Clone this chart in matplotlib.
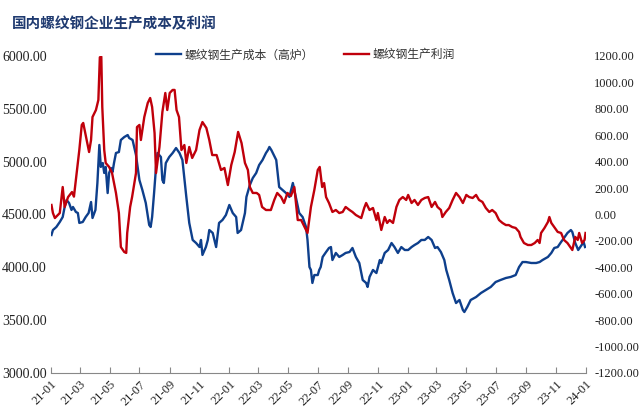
import matplotlib
matplotlib.use('Agg')
import matplotlib.pyplot as plt
import matplotlib.dates as mdates
import pandas as pd

# 螺纹钢生产成本（高炉），元/吨
cost_dates = [
    '2021-01-02', '2021-01-05', '2021-01-12', '2021-01-19', '2021-01-25', '2021-01-29',
    '2021-02-02', '2021-02-07', '2021-02-12', '2021-02-15', '2021-02-21', '2021-02-25',
    '2021-02-28', '2021-03-07', '2021-03-13', '2021-03-19', '2021-03-24', '2021-03-27',
    '2021-04-02', '2021-04-06', '2021-04-10', '2021-04-13', '2021-04-17', '2021-04-20',
    '2021-04-23', '2021-04-27', '2021-04-30', '2021-05-04', '2021-05-07', '2021-05-10',
    '2021-05-14', '2021-05-20', '2021-05-24', '2021-05-31', '2021-06-07', '2021-06-10',
    '2021-06-17', '2021-06-24', '2021-07-01', '2021-07-07', '2021-07-14', '2021-07-21',
    '2021-07-24', '2021-07-27', '2021-07-31', '2021-08-04', '2021-08-07', '2021-08-14',
    '2021-08-17', '2021-08-20', '2021-08-24', '2021-08-31', '2021-09-07', '2021-09-14',
    '2021-09-21', '2021-09-27', '2021-10-05', '2021-10-11', '2021-10-18', '2021-10-25',
    '2021-11-01', '2021-11-04', '2021-11-07', '2021-11-14', '2021-11-18', '2021-11-21',
    '2021-11-28', '2021-12-05', '2021-12-11', '2021-12-18', '2021-12-25', '2022-01-01',
    '2022-01-08', '2022-01-15', '2022-01-18', '2022-01-25', '2022-02-02', '2022-02-05',
    '2022-02-12', '2022-02-18', '2022-02-25', '2022-03-03', '2022-03-10', '2022-03-17',
    '2022-03-21', '2022-03-24', '2022-03-28', '2022-03-31', '2022-04-07', '2022-04-13',
    '2022-04-20', '2022-04-27', '2022-05-04', '2022-05-11', '2022-05-17', '2022-05-24',
    '2022-05-31', '2022-06-07', '2022-06-10', '2022-06-14', '2022-06-17', '2022-06-20',
    '2022-06-24', '2022-07-01', '2022-07-04', '2022-07-07', '2022-07-11', '2022-07-18',
    '2022-07-24', '2022-07-28', '2022-07-31', '2022-08-07', '2022-08-14', '2022-08-21',
    '2022-08-27', '2022-09-04', '2022-09-10', '2022-09-17', '2022-09-24', '2022-10-01',
    '2022-10-08', '2022-10-11', '2022-10-15', '2022-10-22', '2022-10-29', '2022-11-05',
    '2022-11-08', '2022-11-15', '2022-11-22', '2022-11-29', '2022-12-05', '2022-12-12',
    '2022-12-19', '2022-12-26', '2023-01-02', '2023-01-09', '2023-01-15', '2023-01-22',
    '2023-01-29', '2023-02-05', '2023-02-12', '2023-02-19', '2023-02-26', '2023-03-03',
    '2023-03-10', '2023-03-17', '2023-03-21', '2023-03-27', '2023-04-03', '2023-04-10',
    '2023-04-17', '2023-04-24', '2023-04-27', '2023-05-03', '2023-05-10', '2023-05-21',
    '2023-05-31', '2023-06-10', '2023-06-20', '2023-06-30', '2023-07-10', '2023-07-21',
    '2023-07-31', '2023-08-10', '2023-08-17', '2023-08-24', '2023-08-31', '2023-09-11',
    '2023-09-21', '2023-09-28', '2023-10-04', '2023-10-15', '2023-10-22', '2023-10-28',
    '2023-11-04', '2023-11-11', '2023-11-17', '2023-11-24', '2023-12-01', '2023-12-04',
    '2023-12-10', '2023-12-16', '2023-12-23', '2023-12-27', '2023-12-30',
]
cost_vals = [
    4306, 4353, 4382, 4429, 4476, 4571,
    4637, 4609, 4543, 4571, 4524, 4514,
    4420, 4429, 4476, 4514, 4618, 4467,
    4543, 4798, 5158, 4950, 4987, 4893,
    4950, 4703, 4893, 4940, 4902, 4987,
    5082, 5091, 5205, 5233, 5252, 5224,
    5205, 5063, 4826, 4732, 4609, 4401,
    4382, 4476, 4703, 4950, 5082, 5044,
    4826, 4798, 4987, 5044, 5082, 5129,
    5082, 5016, 4666, 4420, 4259, 4230,
    4192, 4259, 4117, 4192, 4259, 4353,
    4325, 4192, 4420, 4448, 4495, 4590,
    4514, 4476, 4325, 4353, 4514, 4666,
    4779, 4845, 4893, 4968, 5016, 5082,
    5110, 5139, 5110, 5082, 5016, 4760,
    4732, 4703, 4666, 4798, 4666, 4514,
    4476, 4382, 4259, 4003, 3975, 3852,
    3927, 3927, 3975, 4003, 4098, 4145,
    4183, 4192, 4069, 4136, 4098, 4117,
    4136, 4145, 4183, 4098, 4041, 3880,
    3852, 3814, 3909, 3975, 3946, 4069,
    4041, 4136, 4164, 4230, 4192, 4136,
    4192, 4164, 4164, 4192, 4211, 4230,
    4259, 4259, 4287, 4259, 4183, 4192,
    4145, 4069, 3975, 3880, 3757, 3662,
    3691, 3596, 3577, 3625, 3691, 3719,
    3757, 3785, 3814, 3861, 3880, 3899,
    3909, 3927, 4003, 4050, 4050, 4041,
    4041, 4050, 4069, 4098, 4136, 4183,
    4192, 4240, 4278, 4325, 4353, 4334,
    4230, 4164, 4211, 4240, 4192,
]

# 螺纹钢生产利润，元/吨
profit_dates = [
    '2021-01-02', '2021-01-05', '2021-01-09', '2021-01-19', '2021-01-25', '2021-01-29',
    '2021-02-05', '2021-02-13', '2021-02-17', '2021-02-21', '2021-02-23', '2021-02-28',
    '2021-03-05', '2021-03-08', '2021-03-13', '2021-03-20', '2021-03-24', '2021-03-27',
    '2021-04-03', '2021-04-08', '2021-04-11', '2021-04-14', '2021-04-16', '2021-04-20',
    '2021-04-23', '2021-04-30', '2021-05-06', '2021-05-14', '2021-05-20', '2021-05-24',
    '2021-05-31', '2021-06-04', '2021-06-06', '2021-06-12', '2021-06-16', '2021-06-24',
    '2021-06-26', '2021-07-01', '2021-07-04', '2021-07-11', '2021-07-18', '2021-07-23',
    '2021-07-27', '2021-08-01', '2021-08-04', '2021-08-11', '2021-08-17', '2021-08-23',
    '2021-08-27', '2021-09-01', '2021-09-07', '2021-09-11', '2021-09-15', '2021-09-20',
    '2021-09-25', '2021-10-01', '2021-10-05', '2021-10-11', '2021-10-17', '2021-10-25',
    '2021-11-01', '2021-11-07', '2021-11-15', '2021-11-21', '2021-11-27', '2021-12-06',
    '2021-12-15', '2021-12-22', '2021-12-29', '2022-01-05', '2022-01-12', '2022-01-19',
    '2022-01-26', '2022-02-02', '2022-02-08', '2022-02-12', '2022-02-18', '2022-02-26',
    '2022-03-03', '2022-03-09', '2022-03-17', '2022-03-27', '2022-04-03', '2022-04-09',
    '2022-04-17', '2022-04-23', '2022-04-30', '2022-05-07', '2022-05-14', '2022-05-21',
    '2022-05-28', '2022-06-04', '2022-06-10', '2022-06-17', '2022-06-24', '2022-07-01',
    '2022-07-05', '2022-07-10', '2022-07-14', '2022-07-18', '2022-07-24', '2022-07-31',
    '2022-08-07', '2022-08-14', '2022-08-21', '2022-08-27', '2022-09-04', '2022-09-10',
    '2022-09-17', '2022-09-24', '2022-09-28', '2022-10-04', '2022-10-08', '2022-10-15',
    '2022-10-22', '2022-10-29', '2022-11-01', '2022-11-08', '2022-11-15', '2022-11-20',
    '2022-11-25', '2022-12-02', '2022-12-09', '2022-12-15', '2022-12-22', '2022-12-29',
    '2023-01-02', '2023-01-09', '2023-01-15', '2023-01-22', '2023-01-29', '2023-02-05',
    '2023-02-12', '2023-02-19', '2023-02-26', '2023-03-03', '2023-03-10', '2023-03-13',
    '2023-03-20', '2023-03-27', '2023-04-03', '2023-04-10', '2023-04-17', '2023-04-24',
    '2023-05-01', '2023-05-07', '2023-05-14', '2023-05-21', '2023-05-27', '2023-06-03',
    '2023-06-10', '2023-06-17', '2023-06-23', '2023-06-30', '2023-07-07', '2023-07-14',
    '2023-07-21', '2023-07-27', '2023-08-03', '2023-08-10', '2023-08-17', '2023-08-20',
    '2023-08-27', '2023-09-04', '2023-09-11', '2023-09-18', '2023-09-24', '2023-09-28',
    '2023-10-01', '2023-10-08', '2023-10-15', '2023-10-18', '2023-10-22', '2023-10-28',
    '2023-11-04', '2023-11-11', '2023-11-17', '2023-11-24', '2023-12-01', '2023-12-04',
    '2023-12-10', '2023-12-15', '2023-12-18', '2023-12-24', '2023-12-29', '2023-12-31',
]
profit_vals = [
    72, 11, -27, 11, 208, 57,
    132, 170, 135, 261, 322, 488,
    678, 693, 602, 473, 564, 738,
    791, 867, 1190, 1195, 814, 488,
    390, 360, 314, 163, 11, -246,
    -284, -291, -140, 57, 132, 314,
    662, 678, 564, 738, 844, 882,
    814, 617, 314, 511, 776, 920,
    791, 920, 943, 943, 791, 738,
    488, 526, 390, 511, 428, 488,
    640, 700, 655, 564, 450, 450,
    337, 352, 223, 375, 473, 625,
    541, 390, 337, 208, 163, 163,
    148, 57, 34, 34, 110, 163,
    132, 87, 163, 140, 208, -42,
    -42, -95, -140, 57, 186, 337,
    360, 208, 238, 132, 87, 19,
    34, 11, 19, 57, 34, 19,
    -4, -19, -27, 49, 87, 34,
    49, -42, 11, -117, -19, -64,
    -42, -64, 57, 110, 132, 110,
    148, 87, 110, 72, 110, 125,
    132, 57, 95, 57, 34, -19,
    19, 49, 110, 163, 132, 87,
    148, 132, 125, 148, 110, 95,
    49, 19, 34, 11, -42, -64,
    -80, -80, -95, -102, -132, -170,
    -216, -231, -231, -216, -193, -216,
    -140, -102, -57, -19, -64, -95,
    -132, -140, -193, -216, -254, -269,
    -170, -193, -140, -216, -193, -140,
]

cost_label = '螺纹钢生产成本（高炉）'
profit_label = '螺纹钢生产利润'
title = '国内螺纹钢企业生产成本及利润'

blue = '#0E3F8C'
red = '#C0000B'
cjk = ['Noto Sans CJK SC', 'DejaVu Sans']
num_font = 'Liberation Serif'

fig = plt.figure(figsize=(6.42, 4.16), dpi=100)
ax = fig.add_axes([0.0794, 0.1034, 0.8334, 0.762])
ax2 = ax.twinx()

l1, = ax.plot(pd.to_datetime(cost_dates), cost_vals, color=blue, lw=1.7)
l2, = ax2.plot(pd.to_datetime(profit_dates), profit_vals, color=red, lw=1.7)

ax.set_xlim(pd.Timestamp('2021-01-01'), pd.Timestamp('2024-01-01'))
ax.set_ylim(3000, 6000)
ax.set_yticks(range(3000, 6001, 500))
ax2.set_ylim(-1200, 1200)
ax2.set_yticks(range(-1200, 1201, 200))

ax.yaxis.set_major_formatter(matplotlib.ticker.FormatStrFormatter('%.2f'))
ax2.yaxis.set_major_formatter(matplotlib.ticker.FormatStrFormatter('%.2f'))

ax.xaxis.set_major_locator(mdates.MonthLocator(bymonth=[1, 3, 5, 7, 9, 11]))
ax.xaxis.set_major_formatter(mdates.DateFormatter('%y-%m'))

for a in (ax, ax2):
    for s in a.spines.values():
        s.set_visible(False)
ax.spines['bottom'].set_visible(True)
ax.spines['bottom'].set_color('#888888')

ax.tick_params(axis='y', length=0, pad=3, labelsize=10, labelcolor='#222222')
ax2.tick_params(axis='y', length=0, pad=6, labelsize=9, labelcolor='#222222')
ax.tick_params(axis='x', direction='in', length=4, color='#888888',
               labelsize=9, labelcolor='#222222', pad=4)
for lbl in ax.get_xticklabels():
    lbl.set_rotation(45)
    lbl.set_ha('right')
    lbl.set_rotation_mode('anchor')
for lbl in ax.get_yticklabels() + ax2.get_yticklabels() + ax.get_xticklabels():
    lbl.set_fontfamily(num_font)

fig.text(0.019, 0.962, title, family=cjk, fontsize=10.5, fontweight='bold',
         color='#1F3A70', va='top', ha='left')

fig.legend([l1, l2], [cost_label, profit_label], loc='center left',
           bbox_to_anchor=(0.243, 0.868), ncol=2, frameon=False,
           prop={'family': cjk, 'size': 8.5}, handlelength=2.1,
           columnspacing=2.6, handletextpad=0.3, labelcolor='#333333',
           borderaxespad=0, borderpad=0)

fig.savefig('out.png', dpi=100)
